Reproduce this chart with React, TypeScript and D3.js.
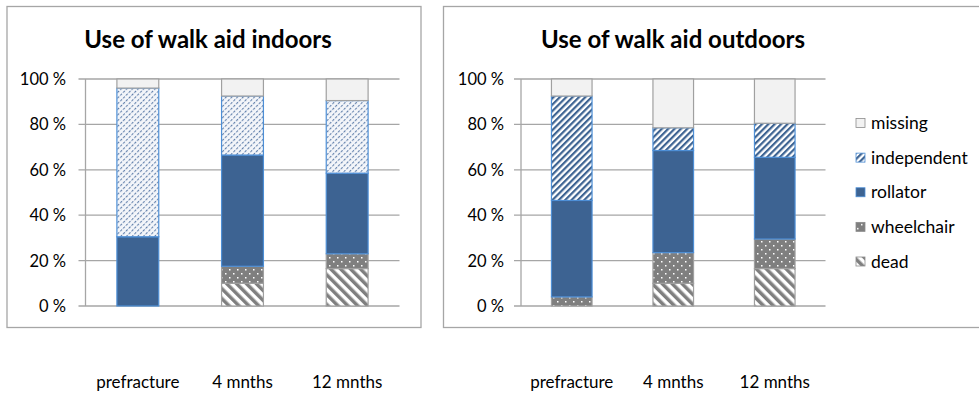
import React from 'react';
import * as d3 from 'd3';

const categories = ['prefracture', '4 mnths', '12 mnths'];
const seriesKeys = ['dead', 'wheelchair', 'rollator', 'independent', 'missing'];
const legendOrder = ['missing', 'independent', 'rollator', 'wheelchair', 'dead'];
const yTicks = [0, 20, 40, 60, 80, 100];

// Percent of patients per category, indoors
const indoorDead = [0, 10, 16.5];
const indoorWheelchair = [0, 7.5, 6.5];
const indoorRollator = [30.5, 49, 35.5];
const indoorIndependent = [65.5, 26, 32];
const indoorMissing = [4, 7.5, 9.5];

// Percent of patients per category, outdoors
const outdoorDead = [0, 10, 16.5];
const outdoorWheelchair = [4, 13.5, 13];
const outdoorRollator = [42.5, 45, 36];
const outdoorIndependent = [46, 10, 15];
const outdoorMissing = [7.5, 21.5, 19.5];

type Row = { cat: string; [k: string]: number | string };

function buildRows(dead: number[], wc: number[], rol: number[], ind: number[], mis: number[]): Row[] {
  return categories.map((c, i) => ({
    cat: c,
    dead: dead[i],
    wheelchair: wc[i],
    rollator: rol[i],
    independent: ind[i],
    missing: mis[i],
  }));
}

const FONT = 'Lato, "Open Sans", sans-serif';
const GRID = '#a6a6a6';

const fills = (id: string): Record<string, string> => ({
  dead: 'url(#pDead)',
  wheelchair: 'url(#pWheel)',
  rollator: '#3d6392',
  independent: `url(#${id})`,
  missing: '#f2f2f2',
});

const strokes: Record<string, string> = {
  dead: '#a0a0a0',
  wheelchair: '#a0a0a0',
  rollator: '#4e8fd6',
  independent: '#4e8fd6',
  missing: '#a0a0a0',
};

type PanelProps = {
  rows: Row[];
  title: string;
  left: number;
  right: number;
  titleX: number;
  labelEnd: number;
  indPattern: string;
};

function Panel({ rows, title, left, right, titleX, labelEnd, indPattern }: PanelProps) {
  const top = 79;
  const bottom = 306;
  const x = d3.scaleBand<string>().domain(categories).range([left, right]).paddingInner(0.6).paddingOuter(0.3);
  const y = d3.scaleLinear().domain([0, 100]).range([bottom, top]);
  const stacked = d3.stack<Row>().keys(seriesKeys).value((d, k) => d[k] as number)(rows);
  const f = fills(indPattern);

  return (
    <g>
      <text x={titleX} y={48} textAnchor="middle" fontFamily={FONT} fontWeight={700} fontSize={24} fill="#000">
        {title}
      </text>
      {yTicks.map((t) => (
        <g key={t}>
          <line x1={left - 7} x2={right} y1={y(t)} y2={y(t)} stroke={GRID} strokeWidth={1.3} />
          <text x={labelEnd} y={y(t) + 6} textAnchor="end" fontFamily={FONT} fontSize={16.5} fill="#000">
            {`${t} %`}
          </text>
        </g>
      ))}
      <line x1={left} x2={left} y1={top} y2={bottom} stroke={GRID} strokeWidth={1.3} />
      {stacked.map((s) =>
        s.map((d, i) => {
          const h = y(d[0]) - y(d[1]);
          if (h <= 0) return null;
          return (
            <rect
              key={s.key + i}
              x={x(rows[i].cat as string)}
              y={y(d[1])}
              width={x.bandwidth()}
              height={h}
              fill={f[s.key]}
              stroke={strokes[s.key]}
              strokeWidth={1.2}
            />
          );
        })
      )}
      {categories.map((c) => (
        <text
          key={c}
          x={(x(c) as number) + x.bandwidth() / 2}
          y={388}
          textAnchor="middle"
          fontFamily={FONT}
          fontSize={17}
          fill="#000"
        >
          {c}
        </text>
      ))}
    </g>
  );
}

export default function App() {
  const indoor = buildRows(indoorDead, indoorWheelchair, indoorRollator, indoorIndependent, indoorMissing);
  const outdoor = buildRows(outdoorDead, outdoorWheelchair, outdoorRollator, outdoorIndependent, outdoorMissing);
  const legendY = d3.scalePoint<string>().domain(legendOrder).range([123, 261.5]);
  const legendFill = fills('pIndOut');

  return (
    <svg width={979} height={399} style={{ position: 'absolute', left: 0, top: 0, background: '#fff' }}>
      <defs>
        <pattern id="pDead" patternUnits="userSpaceOnUse" width={7} height={7} patternTransform="rotate(-45)">
          <rect width={7} height={7} fill="#fff" />
          <rect width={3.5} height={7} fill="#7f7f7f" />
        </pattern>
        <pattern id="pWheel" patternUnits="userSpaceOnUse" width={8} height={8}>
          <rect width={8} height={8} fill="#7f7f7f" />
          <rect x={1} y={1} width={1.5} height={1.5} fill="#fff" />
          <rect x={5} y={5} width={1.5} height={1.5} fill="#fff" />
        </pattern>
        <pattern id="pIndIn" patternUnits="userSpaceOnUse" width={4} height={4} patternTransform="rotate(45)">
          <rect width={4} height={4} fill="#f4f6fa" />
          <rect width={1.1} height={2.5} fill="#5f7eaa" />
        </pattern>
        <pattern id="pIndOut" patternUnits="userSpaceOnUse" width={4.5} height={4.5} patternTransform="rotate(45)">
          <rect width={4.5} height={4.5} fill="#fff" />
          <rect width={2.2} height={4.5} fill="#3d6392" />
        </pattern>
      </defs>

      <rect x={7} y={6.5} width={414} height={321} fill="#fff" stroke={GRID} strokeWidth={1.3} />
      <rect x={443.5} y={6.5} width={560} height={321} fill="#fff" stroke={GRID} strokeWidth={1.3} />

      <Panel
        rows={indoor}
        title="Use of walk aid indoors"
        left={85.5}
        right={399.5}
        titleX={208}
        labelEnd={66}
        indPattern="pIndIn"
      />
      <Panel
        rows={outdoor}
        title="Use of walk aid outdoors"
        left={521}
        right={825.5}
        titleX={673}
        labelEnd={504}
        indPattern="pIndOut"
      />

      {legendOrder.map((k) => (
        <g key={k} transform={`translate(856, ${legendY(k)})`}>
          <rect
            x={0}
            y={-4.5}
            width={9}
            height={9}
            fill={legendFill[k]}
            stroke={k === 'rollator' || k === 'independent' ? '#4e8fd6' : '#8c8c8c'}
            strokeWidth={0.8}
          />
          <text x={15} y={6} fontFamily={FONT} fontSize={17.5} fill="#000">
            {k}
          </text>
        </g>
      ))}
    </svg>
  );
}
